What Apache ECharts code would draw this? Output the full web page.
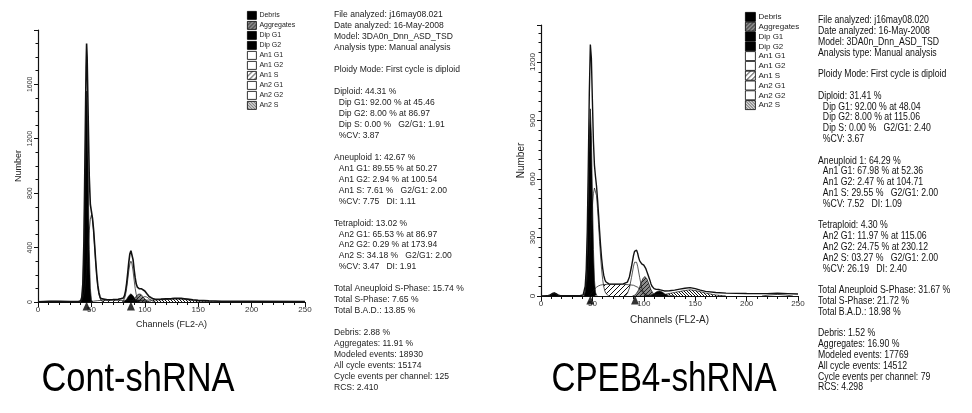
<!DOCTYPE html>
<html>
<head>
<meta charset="utf-8">
<script src="https://cdn.jsdelivr.net/npm/echarts@6/dist/echarts.min.js"></script>
<style>
  html, body { margin: 0; padding: 0; background: #fff; }
  #chart { width: 972px; height: 413px; }
</style>
</head>
<body>
<div id="chart"></div>
<script>
// ModFit 细胞周期直方图：左 Cont-shRNA，右 CPEB4-shRNA
// 图例条目
const legendNames = ['Debris', 'Aggregates', 'Dip G1', 'Dip G2', 'An1 G1', 'An1 G2', 'An1 S', 'An2 G1', 'An2 G2', 'An2 S']
const contYTicks = [0, 400, 800, 1200, 1600]
const cpebYTicks = [0, 300, 600, 900, 1200]
const xTicks = [0, 50, 100, 150, 200, 250]

// ---- Cont-shRNA：[channel, number] ----
const contTotal = [[0, 2], [10, 5], [15, 6], [20, 5], [30, 3], [38, 3], [40, 10], [41, 35], [42, 135], [43, 449], [44, 1070], [45, 1720], [45.5, 1900], [46, 1800], [47, 1357], [48, 918], [49, 717], [50, 666], [51, 617], [52, 536], [53, 422], [54, 303], [55, 199], [56, 122], [57, 70], [58, 40], [59, 25], [60, 18], [65, 17], [70, 18], [75, 20], [78, 25], [80, 30], [81, 47], [82, 82], [83, 137], [84, 211], [85, 291], [86, 353], [87, 377], [88, 364], [89, 311], [90, 239], [91, 177], [92, 132], [93, 110], [94, 101], [95, 97], [96, 97], [97, 97], [98, 94], [100, 81], [102, 60], [104, 40], [106, 31], [108, 23], [110, 20], [115, 21], [120, 23], [125, 25], [128, 27], [131, 28], [134, 27], [137, 24], [140, 21], [145, 16], [150, 12], [160, 9], [172, 6], [200, 5], [250, 4]]
const contDebris = [[4, 0], [8, 3], [12, 5], [16, 5], [22, 4], [30, 3], [38, 2], [40, 0]]
const contDipG1 = [[40, 0], [41, 18], [42, 102], [43, 386], [44, 940], [45, 1466], [45.5, 1550], [46, 1466], [47, 940], [48, 386], [49, 102], [50, 18], [51, 0]]
const contDipG2 = [[79, 0], [80, 2], [81, 5], [82, 11], [83, 20], [84, 32], [85, 46], [86, 56], [87, 60], [88, 56], [89, 46], [90, 32], [91, 20], [92, 11], [93, 5], [94, 2], [95, 0]]
const contAn1G1 = [[39, 0], [40, 5], [41, 12], [42, 28], [43, 58], [44, 110], [45, 189], [45.5, 238], [46, 293], [47, 412], [48, 526], [49, 609], [50, 640], [51, 609], [52, 526], [53, 412], [54, 293], [55, 189], [56, 110], [57, 58], [58, 28], [59, 12], [60, 5], [61, 0]]
const contAn1G2 = [[92, 0], [94, 7], [96, 17], [98, 31], [100, 40], [102, 36], [104, 24], [106, 12], [108, 4], [110, 0]]
const contAn1S = [[48, 0], [52, 6], [56, 10], [60, 12], [70, 12], [80, 12], [90, 12], [95, 10], [100, 5], [104, 0]]
const contAn2G1 = [[79, 0], [80, 10], [81, 25], [82, 54], [83, 100], [84, 162], [85, 228], [86, 280], [87, 300], [88, 280], [89, 228], [90, 162], [91, 100], [92, 54], [93, 25], [94, 10], [95, 3], [96, 0]]
const contAn2G2 = [[166, 0], [170, 2], [174, 3], [178, 2], [182, 0]]
const contAn2S = [[88, 0], [92, 10], [100, 14], [110, 14], [120, 18], [128, 22], [134, 22], [140, 16], [148, 8], [160, 4], [172, 0]]
const contAggregates = [[86, 0], [88, 8], [90, 22], [92, 42], [94, 58], [95, 60], [96, 58], [98, 42], [100, 22], [102, 8], [104, 2], [106, 0]]
const contMarkers = [45.5, 87]

// ---- CPEB4-shRNA ----
const cpebTotal = [[0, 0], [6, 1], [9, 6], [11, 13], [13, 16], [15, 11], [17, 4], [19, 2], [30, 1], [38, 2], [41, 5], [42, 12], [43, 51], [44, 136], [45, 332], [46, 664], [47, 1042], [48, 1290], [49, 1220], [50, 1001], [51, 792], [52, 670], [53, 613], [54, 564], [55, 496], [56, 418], [57, 333], [58, 256], [59, 191], [60, 142], [61, 107], [62, 86], [63, 73], [64, 67], [66, 62], [70, 61], [75, 61], [80, 62], [84, 71], [86, 98], [88, 150], [90, 208], [91, 229], [92, 236], [93, 235], [94, 220], [95, 197], [96, 180], [97, 170], [98, 165], [99, 162], [100, 158], [101, 150], [102, 140], [103, 125], [104, 110], [105, 95], [106, 80], [107, 62], [108, 50], [110, 38], [112, 34], [115, 33], [118, 29], [120, 26], [125, 27], [130, 30], [135, 35], [140, 40], [145, 43], [150, 38], [155, 30], [160, 24], [170, 18], [180, 15], [200, 13], [220, 12], [230, 14], [240, 12], [250, 10]]
const cpebDebris = [[6, 0], [9, 5], [11, 12], [13, 15], [15, 10], [17, 3], [19, 0]]
const cpebDipG1 = [[42, 0], [43, 20], [44, 81], [45, 239], [46, 518], [47, 823], [48, 960], [49, 823], [50, 518], [51, 239], [52, 81], [53, 20], [54, 4], [55, 0]]
const cpebDipG2 = [[106, 0], [109, 8], [112, 20], [115, 26], [118, 20], [121, 8], [124, 0]]
const cpebAn1G1 = [[42, 0], [43, 31], [44, 55], [45, 93], [46, 146], [47, 215], [48, 296], [49, 383], [50, 463], [51, 525], [52, 554], [53, 553], [54, 515], [55, 448], [56, 366], [57, 279], [58, 200], [59, 134], [60, 84], [61, 49], [62, 27], [63, 14], [64, 7], [66, 0]]
const cpebAn1G2 = [[82, 0], [84, 13], [86, 41], [88, 94], [90, 153], [91, 173], [92, 180], [93, 173], [94, 153], [96, 94], [98, 41], [100, 13], [102, 3], [104, 0]]
const cpebAn1S = [[46, 0], [48, 8], [50, 20], [52, 35], [54, 45], [56, 52], [58, 56], [60, 58], [65, 60], [70, 60], [75, 60], [80, 60], [85, 58], [90, 55], [94, 45], [97, 30], [100, 15], [103, 5], [106, 0]]
const cpebAn2G1 = [[100, 0], [108, 6], [115, 8], [122, 6], [130, 0]]
const cpebAn2G2 = [[215, 0], [222, 5], [230, 8], [238, 5], [245, 0]]
const cpebAn2S = [[110, 0], [120, 8], [130, 18], [140, 28], [145, 32], [150, 28], [160, 15], [170, 5], [180, 0]]
const cpebAggregates = [[89, 0], [91, 4], [93, 14], [95, 32], [97, 61], [99, 88], [101, 100], [103, 88], [105, 61], [107, 32], [109, 14], [111, 4], [113, 0]]
const cpebMarkers = [48, 91.5]

// 右侧分析文字
const contInfo = [
  'File analyzed: j16may08.021', 'Date analyzed: 16-May-2008', 'Model: 3DA0n_Dnn_ASD_TSD', 'Analysis type: Manual analysis', '',
  'Ploidy Mode: First cycle is diploid', '',
  'Diploid: 44.31 %', '  Dip G1: 92.00 % at 45.46', '  Dip G2: 8.00 % at 86.97', '  Dip S: 0.00 %   G2/G1: 1.91', '  %CV: 3.87', '',
  'Aneuploid 1: 42.67 %', '  An1 G1: 89.55 % at 50.27', '  An1 G2: 2.94 % at 100.54', '  An1 S: 7.61 %   G2/G1: 2.00', '  %CV: 7.75   DI: 1.11', '',
  'Tetraploid: 13.02 %', '  An2 G1: 65.53 % at 86.97', '  An2 G2: 0.29 % at 173.94', '  An2 S: 34.18 %   G2/G1: 2.00', '  %CV: 3.47   DI: 1.91', '',
  'Total Aneuploid S-Phase: 15.74 %', 'Total S-Phase: 7.65 %', 'Total B.A.D.: 13.85 %', '',
  'Debris: 2.88 %', 'Aggregates: 11.91 %', 'Modeled events: 18930', 'All cycle events: 15174', 'Cycle events per channel: 125', 'RCS: 2.410'
]
const cpebInfo = [
  'File analyzed: j16may08.020', 'Date analyzed: 16-May-2008', 'Model: 3DA0n_Dnn_ASD_TSD', 'Analysis type: Manual analysis', '',
  'Ploidy Mode: First cycle is diploid', '',
  'Diploid: 31.41 %', '  Dip G1: 92.00 % at 48.04', '  Dip G2: 8.00 % at 115.06', '  Dip S: 0.00 %   G2/G1: 2.40', '  %CV: 3.67', '',
  'Aneuploid 1: 64.29 %', '  An1 G1: 67.98 % at 52.36', '  An1 G2: 2.47 % at 104.71', '  An1 S: 29.55 %   G2/G1: 2.00', '  %CV: 7.52   DI: 1.09', '',
  'Tetraploid: 4.30 %', '  An2 G1: 11.97 % at 115.06', '  An2 G2: 24.75 % at 230.12', '  An2 S: 03.27 %   G2/G1: 2.00', '  %CV: 26.19   DI: 2.40', '',
  'Total Aneuploid S-Phase: 31.67 %', 'Total S-Phase: 21.72 %', 'Total B.A.D.: 18.98 %', '',
  'Debris: 1.52 %', 'Aggregates: 16.90 %', 'Modeled events: 17769', 'All cycle events: 14512', 'Cycle events per channel: 79', 'RCS: 4.298'
]

const textFont = '"Liberation Sans", Arial, sans-serif'

// 斜线填充
function hatch (bg, fg, step, up) {
  const c = document.createElement('canvas')
  c.width = step
  c.height = step
  const ctx = c.getContext('2d')
  ctx.fillStyle = bg
  ctx.fillRect(0, 0, step, step)
  ctx.strokeStyle = fg
  ctx.lineWidth = 1
  ctx.beginPath()
  for (let k = -1; k <= 1; k++) {
    if (up) {
      ctx.moveTo(k * step, step)
      ctx.lineTo(k * step + step, 0)
    } else {
      ctx.moveTo(k * step, 0)
      ctx.lineTo(k * step + step, step)
    }
  }
  ctx.stroke()
  return { image: c, repeat: 'repeat' }
}

const fills = {
  Debris: '#000',
  Aggregates: hatch('#8a8a8a', '#222', 4, true),
  'Dip G1': '#000',
  'Dip G2': '#000',
  'An1 G1': '#fff',
  'An1 G2': '#fff',
  'An1 S': hatch('#fff', '#111', 5, true),
  'An2 G1': '#fff',
  'An2 G2': '#fff',
  'An2 S': hatch('#fff', '#111', 3, false)
}

function comp (name, data, idx) {
  return {
    type: 'line',
    name: name,
    xAxisIndex: idx,
    yAxisIndex: idx,
    data: data,
    symbol: 'none',
    silent: true,
    lineStyle: { color: '#111', width: 0.7 },
    itemStyle: { color: fills[name], borderColor: '#000', borderWidth: 0.8 },
    areaStyle: { color: fills[name], opacity: 1 }
  }
}

function chartSeries (idx, d) {
  return [
    comp('An1 S', d.an1S, idx),
    comp('An2 S', d.an2S, idx),
    comp('An2 G2', d.an2G2, idx),
    comp('An1 G1', d.an1G1, idx),
    comp('An2 G1', d.an2G1, idx),
    comp('An1 G2', d.an1G2, idx),
    comp('Aggregates', d.agg, idx),
    comp('Dip G2', d.dipG2, idx),
    comp('Dip G1', d.dipG1, idx),
    comp('Debris', d.debris, idx),
    {
      type: 'line',
      name: 'Model',
      xAxisIndex: idx,
      yAxisIndex: idx,
      data: d.total,
      symbol: 'none',
      silent: true,
      lineStyle: { color: '#111', width: d.lw }
    },
    {
      type: 'scatter',
      name: 'peaks',
      xAxisIndex: idx,
      yAxisIndex: idx,
      data: d.markers.map(v => [v, 0]),
      symbol: 'triangle',
      symbolSize: [8, 9],
      symbolOffset: [0, 4],
      clip: false,
      silent: true,
      itemStyle: { color: '#000' },
      z: 5
    }
  ]
}

function xAxisOf (idx, fs) {
  return {
    type: 'value',
    gridIndex: idx,
    min: xTicks[0],
    max: xTicks[xTicks.length - 1],
    interval: xTicks[1] - xTicks[0],
    name: 'Channels (FL2-A)',
    nameLocation: 'middle',
    nameGap: idx === 0 ? 18 : 19,
    nameTextStyle: { fontFamily: 'Liberation Sans', fontSize: idx === 0 ? 9 : 10, color: '#222' },
    axisLine: { lineStyle: { color: '#111', width: 1.2 } },
    axisTick: { length: 5, lineStyle: { color: '#111' } },
    minorTick: { show: true, splitNumber: 5, length: 3, lineStyle: { color: '#111' } },
    splitLine: { show: false },
    axisLabel: { fontFamily: 'Liberation Sans', fontSize: fs, color: '#333', margin: 4 }
  }
}

function yAxisOf (idx, ticks, max, minorSplit, fs) {
  return {
    type: 'value',
    gridIndex: idx,
    min: ticks[0],
    max: max,
    interval: ticks[1] - ticks[0],
    name: 'Number',
    nameLocation: 'middle',
    nameRotate: 90,
    nameGap: 15,
    nameTextStyle: { fontFamily: 'Liberation Sans', fontSize: idx === 0 ? 9 : 10, color: '#222' },
    axisLine: { show: true, lineStyle: { color: '#111', width: 1.2 } },
    axisTick: { show: true, length: 4, lineStyle: { color: '#111' } },
    minorTick: { show: true, splitNumber: minorSplit, length: 2.5, lineStyle: { color: '#111' } },
    splitLine: { show: false },
    axisLabel: {
      rotate: 90,
      showMaxLabel: false,
      formatter: v => String(v),
      fontFamily: 'Liberation Sans',
      fontSize: fs,
      color: '#333',
      margin: 4
    }
  }
}

function legendOf (left, top, size, gap, fs) {
  return {
    orient: 'vertical',
    left: left,
    top: top,
    icon: 'rect',
    itemWidth: size,
    itemHeight: size - 1,
    itemGap: gap,
    selectedMode: false,
    padding: 0,
    data: legendNames,
    itemStyle: { borderColor: '#000', borderWidth: 0.8 },
    textStyle: { fontFamily: textFont, fontSize: fs, color: '#222', padding: [0, 0, 0, -2] }
  }
}

const chart = echarts.init(document.getElementById('chart'))
chart.setOption({
  backgroundColor: '#fff',
  animation: false,
  grid: [
    { left: 38, right: 667, top: 30, bottom: 111 },
    { left: 541, right: 174, top: 25, bottom: 117 }
  ],
  xAxis: [xAxisOf(0, 8), xAxisOf(1, 8)],
  yAxis: [
    yAxisOf(0, contYTicks, 1999, 4, 7),
    yAxisOf(1, cpebYTicks, 1390, 6, 8)
  ],
  legend: [
    legendOf(247, 11, 9, 1.2, 7),
    legendOf(745, 12, 10, 0, 8)
  ],
  series: [
    ...chartSeries(0, {
      total: contTotal, debris: contDebris, dipG1: contDipG1, dipG2: contDipG2, an1G1: contAn1G1, an1G2: contAn1G2,
      an1S: contAn1S, an2G1: contAn2G1, an2G2: contAn2G2, an2S: contAn2S, agg: contAggregates, markers: contMarkers, lw: 1.6
    }),
    ...chartSeries(1, {
      total: cpebTotal, debris: cpebDebris, dipG1: cpebDipG1, dipG2: cpebDipG2, an1G1: cpebAn1G1, an1G2: cpebAn1G2,
      an1S: cpebAn1S, an2G1: cpebAn2G1, an2G2: cpebAn2G2, an2S: cpebAn2S, agg: cpebAggregates, markers: cpebMarkers, lw: 1.4
    })
  ],
  graphic: [
    {
      type: 'text', x: 334, y: 9, scaleX: 0.9,
      style: { text: contInfo.join('\n'), font: '9.5px ' + textFont, fill: '#222', lineHeight: 10.97 }
    },
    {
      type: 'text', x: 818, y: 15, scaleX: 0.83,
      style: { text: cpebInfo.join('\n'), font: '10.5px ' + textFont, fill: '#111', lineHeight: 10.8 }
    },
    {
      type: 'text', x: 138, y: 380, scaleX: 0.86,
      style: { text: 'Cont-shRNA', font: '40px ' + textFont, fill: '#000', align: 'center', verticalAlign: 'middle' }
    },
    {
      type: 'text', x: 664, y: 380, scaleX: 0.83,
      style: { text: 'CPEB4-shRNA', font: '40px ' + textFont, fill: '#000', align: 'center', verticalAlign: 'middle' }
    }
  ]
})
</script>
</body>
</html>
